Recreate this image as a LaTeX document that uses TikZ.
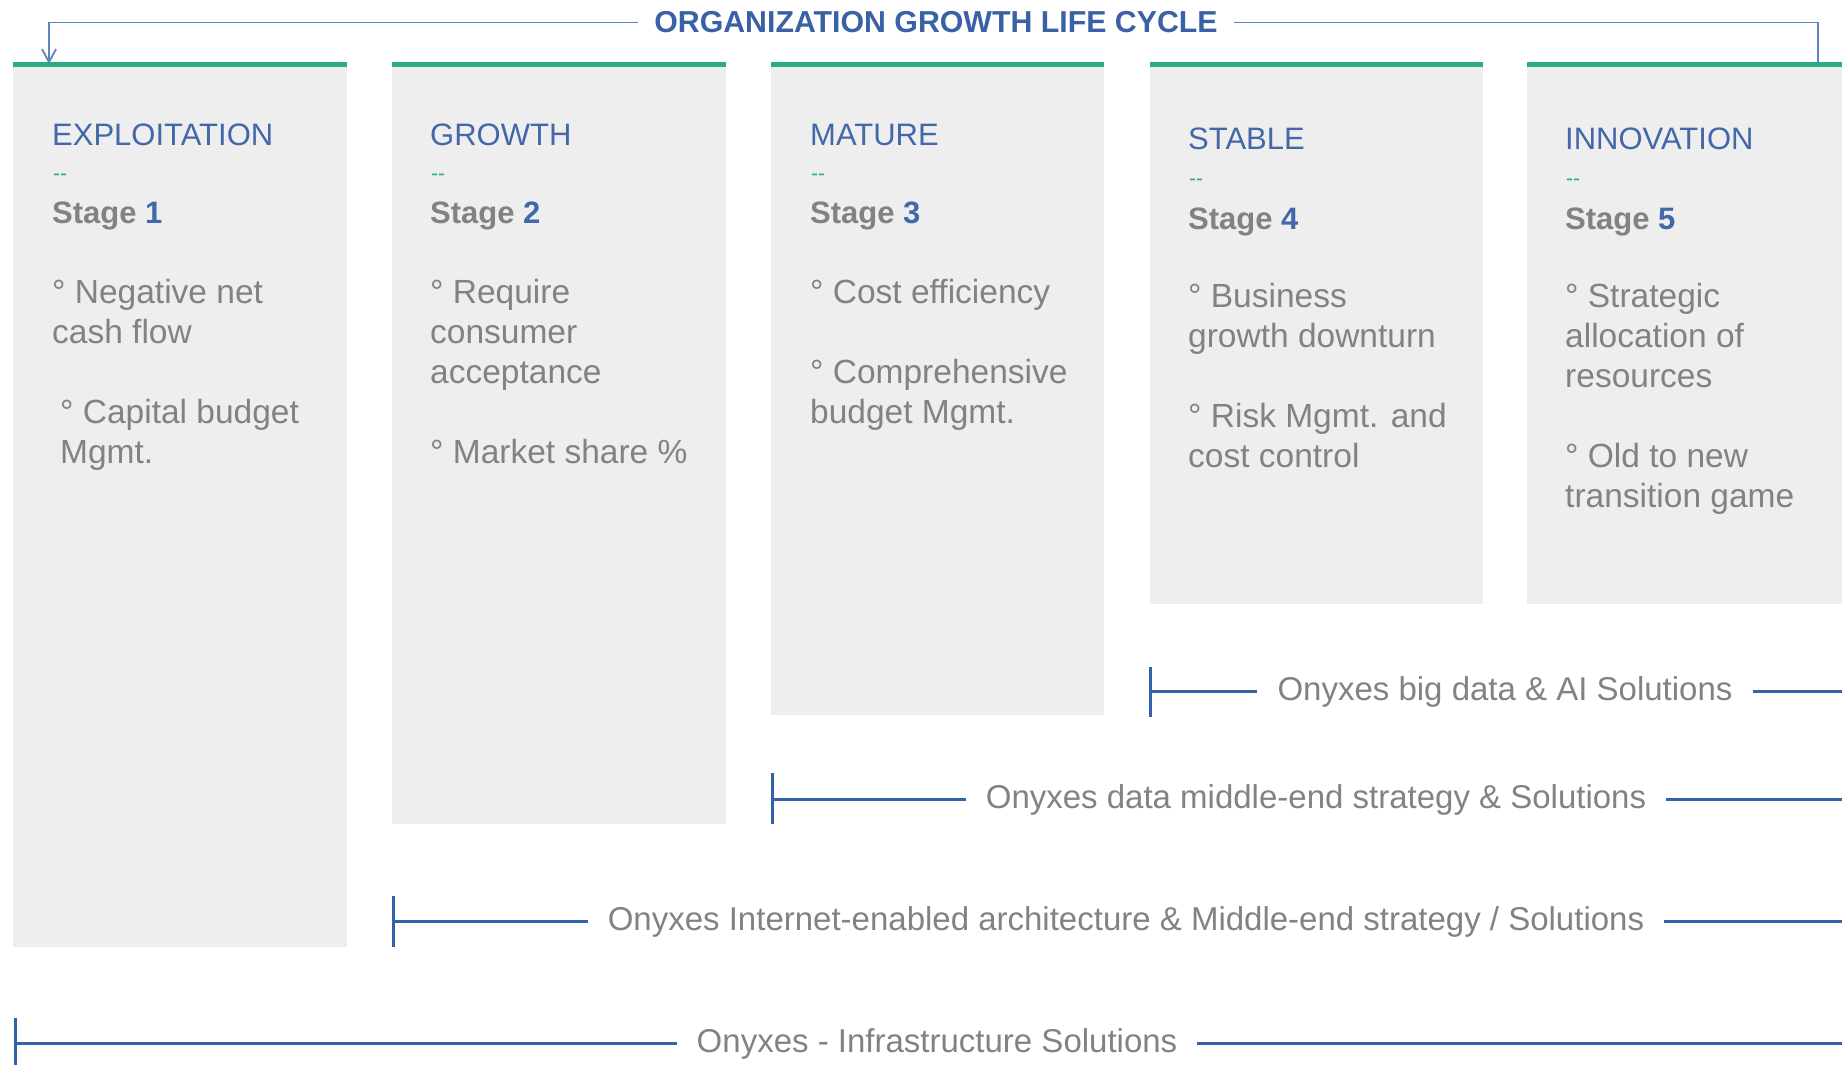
\documentclass[tikz,border=0pt]{standalone}
\usepackage{fontspec}
\setmainfont{Liberation Sans}
\usetikzlibrary{arrows.meta}
\definecolor{hblue}{RGB}{66,104,170}
\definecolor{tblue}{RGB}{58,96,165}
\definecolor{lineblue}{RGB}{96,132,188}
\definecolor{bblue}{RGB}{52,98,170}
\definecolor{txtgray}{RGB}{130,130,130}
\definecolor{boxgray}{RGB}{238,238,238}
\definecolor{tgreen}{RGB}{40,174,128}
\tikzset{
  box/.style={fill=boxgray, draw=none, inner sep=0pt, anchor=north west},
  greenline/.style={draw=tgreen, line width=5pt},
  heading/.style={font=\fontsize{31}{36}\selectfont, text=hblue, anchor=base west, inner sep=0pt},
  dashmark/.style={font=\fontsize{21}{24}\selectfont, text=tgreen, anchor=base west, inner sep=0pt},
  stagetxt/.style={font=\fontsize{31}{36}\selectfont\bfseries, text=txtgray, anchor=base west, inner sep=0pt},
  body/.style={font=\fontsize{33.5}{40}\selectfont, text=txtgray, anchor=base west, inner sep=0pt},
  titletxt/.style={font=\fontsize{30.3}{36}\selectfont\bfseries, text=tblue, anchor=base, inner xsep=16pt, inner ysep=0pt},
  topline/.style={draw=lineblue, line width=1.8pt},
  bline/.style={draw=bblue, line width=3pt},
  soltxt/.style={font=\fontsize{33}{40}\selectfont, text=txtgray, anchor=base, inner xsep=20pt, inner ysep=0pt},
}
\begin{document}
\begin{tikzpicture}[x=1pt,y=-1pt]
\useasboundingbox (0,0) rectangle (1842,1065);

% boxes
\node[box, minimum width=334pt, minimum height=882pt] (b1) at (13,65) {};
\node[box, minimum width=334pt, minimum height=759pt] (b2) at (392,65) {};
\node[box, minimum width=333pt, minimum height=650pt] (b3) at (771,65) {};
\node[box, minimum width=333pt, minimum height=539pt] (b4) at (1150,65) {};
\node[box, minimum width=315pt, minimum height=539pt] (b5) at (1527,65) {};
\foreach \b in {b1,b2,b3,b4,b5}{
  \draw[greenline] (\b.north west) -- (\b.north east);
}

% title bracket
\node[titletxt] (title) at (936,33) {ORGANIZATION GROWTH LIFE CYCLE};
\coordinate (arrowend) at (49,64);
\coordinate (rightend) at (1818,62);
\draw[topline, -{Straight Barb[length=13pt,width=14pt,line width=1.8pt]}] (title.west) -| (arrowend);
\draw[topline] (title.east) -| (rightend);

% box 1
\node[heading] (h1) at (52,145) {EXPLOITATION};
\node[dashmark] (d1) at (53,180) {{-}{-}};
\node[stagetxt] (st1) at (52,223) {Stage \textcolor{hblue}{1}};
\node[body] (p11a) at (52,303) {° Negative net};
\node[body] (p11b) at (52,343) {cash flow};
\node[body] (p12a) at (60,423) {° Capital budget};
\node[body] (p12b) at (60,463) {Mgmt.};

% box 2
\node[heading] (h2) at (430,145) {GROWTH};
\node[dashmark] (d2) at (431,180) {{-}{-}};
\node[stagetxt] (st2) at (430,223) {Stage \textcolor{hblue}{2}};
\node[body] (p21a) at (430,303) {° Require};
\node[body] (p21b) at (430,343) {consumer};
\node[body] (p21c) at (430,383) {acceptance};
\node[body] (p22a) at (430,463) {° Market share \%};

% box 3
\node[heading] (h3) at (810,145) {MATURE};
\node[dashmark] (d3) at (811,180) {{-}{-}};
\node[stagetxt] (st3) at (810,223) {Stage \textcolor{hblue}{3}};
\node[body] (p31a) at (810,303) {° Cost efficiency};
\node[body] (p32a) at (810,383) {° Comprehensive};
\node[body] (p32b) at (810,423) {budget Mgmt.};

% box 4
\node[heading] (h4) at (1188,149) {STABLE};
\node[dashmark] (d4) at (1189,185) {{-}{-}};
\node[stagetxt] (st4) at (1188,229) {Stage \textcolor{hblue}{4}};
\node[body] (p41a) at (1188,307) {° Business};
\node[body] (p41b) at (1188,347) {growth downturn};
\node[body] (p42a) at (1188,427) {° Risk Mgmt. and};
\node[body] (p42b) at (1188,467) {cost control};

% box 5
\node[heading] (h5) at (1565,149) {INNOVATION};
\node[dashmark] (d5) at (1566,185) {{-}{-}};
\node[stagetxt] (st5) at (1565,229) {Stage \textcolor{hblue}{5}};
\node[body] (p51a) at (1565,307) {° Strategic};
\node[body] (p51b) at (1565,347) {allocation of};
\node[body] (p51c) at (1565,387) {resources};
\node[body] (p52a) at (1565,467) {° Old to new};
\node[body] (p52b) at (1565,507) {transition game};

% solution brackets
\node[soltxt] (s1) at (1505,700) {Onyxes big data \& AI Solutions};
\coordinate (s1l) at (1150,691);
\coordinate (s1r) at (1842,691);
\draw[bline] (1150,667) -- (1150,717);
\draw[bline] (s1l) -- (s1l -| s1.west);
\draw[bline] (s1l -| s1.east) -- (s1r);

\node[soltxt] (s2) at (1316,808) {Onyxes data middle-end strategy \& Solutions};
\coordinate (s2l) at (772,799);
\coordinate (s2r) at (1842,799);
\draw[bline] (772,773) -- (772,824);
\draw[bline] (s2l) -- (s2l -| s2.west);
\draw[bline] (s2l -| s2.east) -- (s2r);

\node[soltxt] (s3) at (1126,930) {Onyxes Internet-enabled architecture \& Middle-end strategy / Solutions};
\coordinate (s3l) at (393,921);
\coordinate (s3r) at (1842,921);
\draw[bline] (393,896) -- (393,947);
\draw[bline] (s3l) -- (s3l -| s3.west);
\draw[bline] (s3l -| s3.east) -- (s3r);

\node[soltxt] (s4) at (937,1052) {Onyxes - Infrastructure Solutions};
\coordinate (s4l) at (15,1043);
\coordinate (s4r) at (1842,1043);
\draw[bline] (15,1018) -- (15,1068);
\draw[bline] (s4l) -- (s4l -| s4.west);
\draw[bline] (s4l -| s4.east) -- (s4r);
\end{tikzpicture}
\end{document}
